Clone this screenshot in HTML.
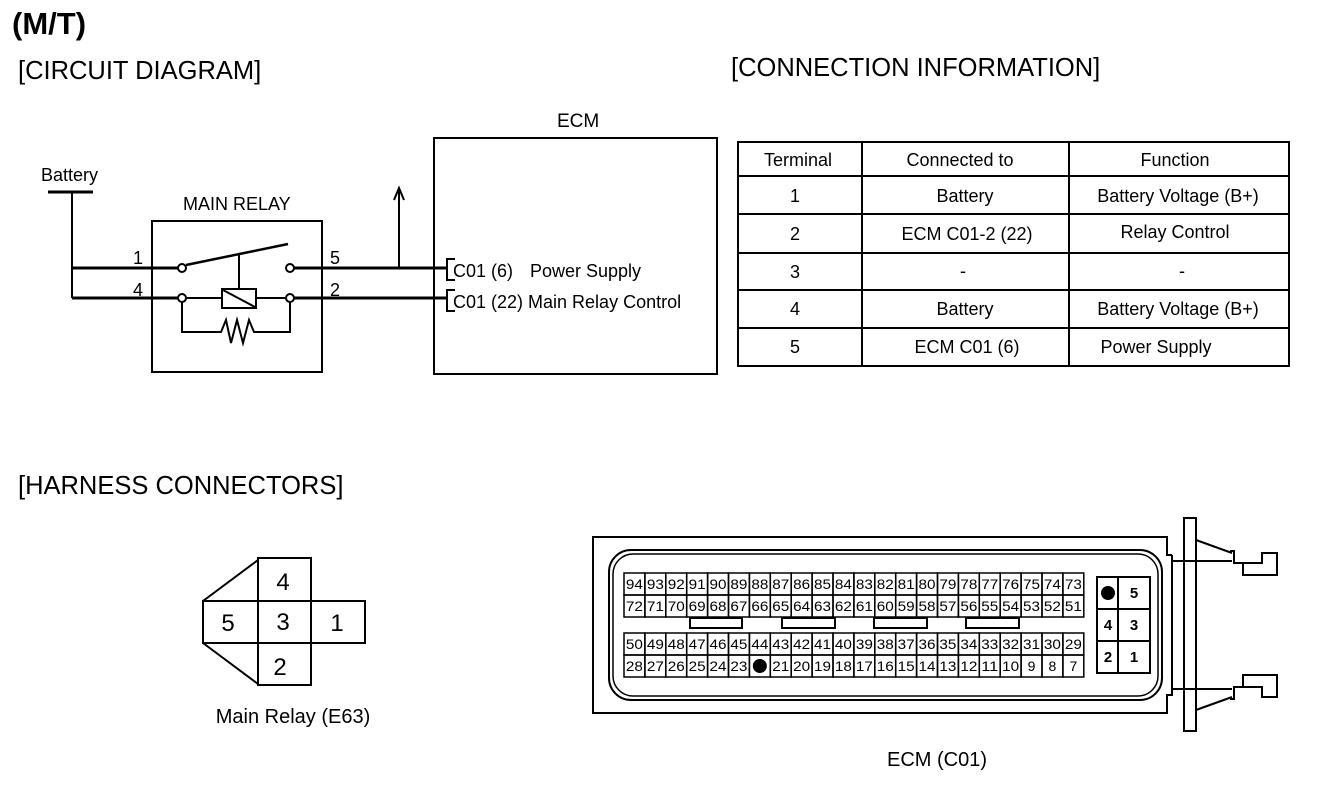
<!DOCTYPE html>
<html><head><meta charset="utf-8"><style>
body{margin:0;background:#fff}
svg{display:block}
text{font-family:"Liberation Sans",sans-serif;fill:#000}
</style></head><body>
<svg width="1328" height="788" viewBox="0 0 1328 788" xmlns="http://www.w3.org/2000/svg">
<text x="12" y="34" font-size="31" font-weight="bold">(M/T)</text>
<text x="18" y="79" font-size="25.5">[CIRCUIT DIAGRAM]</text>
<text x="731" y="76" font-size="25.5">[CONNECTION INFORMATION]</text>
<text x="18" y="494" font-size="25.5">[HARNESS CONNECTORS]</text>

<g stroke="#000" fill="none" stroke-width="2">
<text x="41" y="181" font-size="18" stroke="none">Battery</text>
<line x1="48" y1="192" x2="93" y2="192" stroke-width="3"/>
<line x1="72" y1="192" x2="72" y2="298"/>
<line x1="72" y1="268" x2="178" y2="268" stroke-width="3"/>
<line x1="72" y1="298" x2="178" y2="298" stroke-width="3"/>
<rect x="152" y="221" width="170" height="151"/>
<text x="183" y="210" font-size="18" stroke="none">MAIN RELAY</text>
<text x="133" y="264" font-size="18" stroke="none">1</text>
<text x="133" y="296" font-size="18" stroke="none">4</text>
<text x="330" y="264" font-size="18" stroke="none">5</text>
<text x="330" y="296" font-size="18" stroke="none">2</text>
<circle cx="182" cy="268" r="4"/>
<circle cx="290" cy="268" r="4"/>
<circle cx="182" cy="298" r="4"/>
<circle cx="290" cy="298" r="4"/>
<line x1="186" y1="265" x2="288" y2="244" stroke-width="2.5"/>
<line x1="239" y1="254" x2="239" y2="289"/>
<rect x="222" y="289" width="34" height="19"/>
<line x1="223" y1="290" x2="255" y2="307"/>
<line x1="186" y1="298" x2="222" y2="298"/>
<line x1="256" y1="298" x2="286" y2="298"/>
<polyline points="182,302 182,332 221,332 226,320 231,343 237,320 243,343 249,320 254,332 290,332 290,302"/>
<line x1="294" y1="268" x2="446" y2="268" stroke-width="3"/>
<line x1="294" y1="298" x2="446" y2="298" stroke-width="3"/>
<line x1="399" y1="268" x2="399" y2="188"/>
<polyline points="394,200 399,188 404,200"/>
<rect x="434" y="138" width="283" height="236"/>
<text x="557" y="127" font-size="19" stroke="none">ECM</text>
<polyline points="455,259 447,259 447,280 455,280"/>
<polyline points="455,290 447,290 447,311 455,311"/>
<text x="453" y="277" font-size="18" stroke="none">C01 (6)</text>
<text x="530" y="277" font-size="18" stroke="none">Power Supply</text>
<text x="453" y="308" font-size="18" stroke="none">C01 (22) Main Relay Control</text>
</g>

<g stroke="#000" fill="none" stroke-width="2">
<rect x="738" y="142" width="551" height="224"/>
<line x1="862" y1="142" x2="862" y2="366"/>
<line x1="1069" y1="142" x2="1069" y2="366"/>
<line x1="738" y1="176" x2="1289" y2="176"/>
<line x1="738" y1="214" x2="1289" y2="214"/>
<line x1="738" y1="253" x2="1289" y2="253"/>
<line x1="738" y1="290" x2="1289" y2="290"/>
<line x1="738" y1="328" x2="1289" y2="328"/>
</g>
<g font-size="18" text-anchor="middle">
<text x="798" y="166">Terminal</text><text x="960" y="166">Connected to</text><text x="1175" y="166">Function</text>
<text x="795" y="202">1</text><text x="965" y="202">Battery</text><text x="1178" y="202">Battery Voltage (B+)</text>
<text x="795" y="240">2</text><text x="967" y="240">ECM C01-2 (22)</text><text x="1175" y="238">Relay Control</text>
<text x="795" y="278">3</text><text x="963" y="277">-</text><text x="1182" y="277">-</text>
<text x="795" y="315">4</text><text x="965" y="315">Battery</text><text x="1178" y="315">Battery Voltage (B+)</text>
<text x="795" y="353">5</text><text x="967" y="353">ECM C01 (6)</text><text x="1156" y="353">Power Supply</text>
</g>

<g stroke="#000" fill="none" stroke-width="2">
<rect x="258" y="558" width="53" height="127"/>
<rect x="203" y="601" width="162" height="42"/>
<line x1="203" y1="601" x2="258" y2="560"/>
<line x1="203" y1="643" x2="258" y2="684"/>
</g>
<g font-size="24" text-anchor="middle">
<text x="283" y="590">4</text><text x="283" y="630">3</text><text x="280" y="675">2</text>
<text x="228" y="631">5</text><text x="337" y="631">1</text>
</g>
<text x="293" y="723" font-size="20" text-anchor="middle">Main Relay (E63)</text>

<g stroke="#000" fill="none" stroke-width="2">
<polyline points="1172,555 1167,555 1167,537 593,537 593,713 1167,713 1167,695 1172,695 1172,555"/>
<rect x="609" y="550" width="553" height="150" rx="22"/>
<rect x="613" y="554" width="545" height="142" rx="20" stroke-width="1.5"/>
<rect x="1184" y="518" width="12" height="213"/>
<line x1="1172" y1="561" x2="1232" y2="561"/>
<line x1="1172" y1="689" x2="1232" y2="689"/>
<line x1="1196" y1="540" x2="1232" y2="553"/>
<line x1="1196" y1="710" x2="1232" y2="697"/>
<polyline points="1230,551 1234,551 1234,563 1262,563 1262,553 1277,553 1277,575 1243,575 1243,563"/>
<polyline points="1230,699 1234,699 1234,687 1262,687 1262,697 1277,697 1277,675 1243,675 1243,687"/>
<rect x="1097" y="577" width="53" height="96"/>
<line x1="1118" y1="577" x2="1118" y2="673"/>
<line x1="1097" y1="609" x2="1150" y2="609"/>
<line x1="1097" y1="641" x2="1150" y2="641"/>
<rect x="690" y="618" width="52" height="10"/>
<rect x="782" y="618" width="53" height="10"/>
<rect x="874" y="618" width="53" height="10"/>
<rect x="966" y="618" width="53" height="10"/>
</g>
<circle cx="1108" cy="593" r="7" fill="#000"/>
<g font-size="15" text-anchor="middle" font-weight="bold">
<text x="1134" y="598">5</text><text x="1108" y="630">4</text><text x="1134" y="630">3</text><text x="1108" y="662">2</text><text x="1134" y="662">1</text>
</g>
<g id="grid" stroke="#000" stroke-width="1.5" fill="none"></g>
<g id="nums" font-size="14" text-anchor="middle"></g>
<text x="937" y="766" font-size="20" text-anchor="middle">ECM  (C01)</text>
</svg>
<script>
(function(){
var ns="http://www.w3.org/2000/svg",g=document.getElementById("grid"),n=document.getElementById("nums");
var x0=624,w=20.9,rows=[573,595,633,655];
function r(x,y,wd,h){var e=document.createElementNS(ns,"rect");e.setAttribute("x",x);e.setAttribute("y",y);e.setAttribute("width",wd);e.setAttribute("height",h);g.appendChild(e);}
var starts=[94,72,50,28];
for(var i=0;i<4;i++){var y=rows[i];
 for(var c=0;c<22;c++){var x=x0+c*w;r(x,y,w,22);var v=starts[i]-c;
  if(i==3&&v==22){var ci=document.createElementNS(ns,"circle");ci.setAttribute("cx",x+w/2);ci.setAttribute("cy",y+11);ci.setAttribute("r",7);ci.setAttribute("fill","#000");n.appendChild(ci);continue;}
  var t=document.createElementNS(ns,"text");t.setAttribute("x",x+w/2);t.setAttribute("y",y+16);
  if(v>=10){t.setAttribute("textLength","17");t.setAttribute("lengthAdjust","spacingAndGlyphs");}
  t.textContent=v;n.appendChild(t);}}
})();
</script>
</body></html>
